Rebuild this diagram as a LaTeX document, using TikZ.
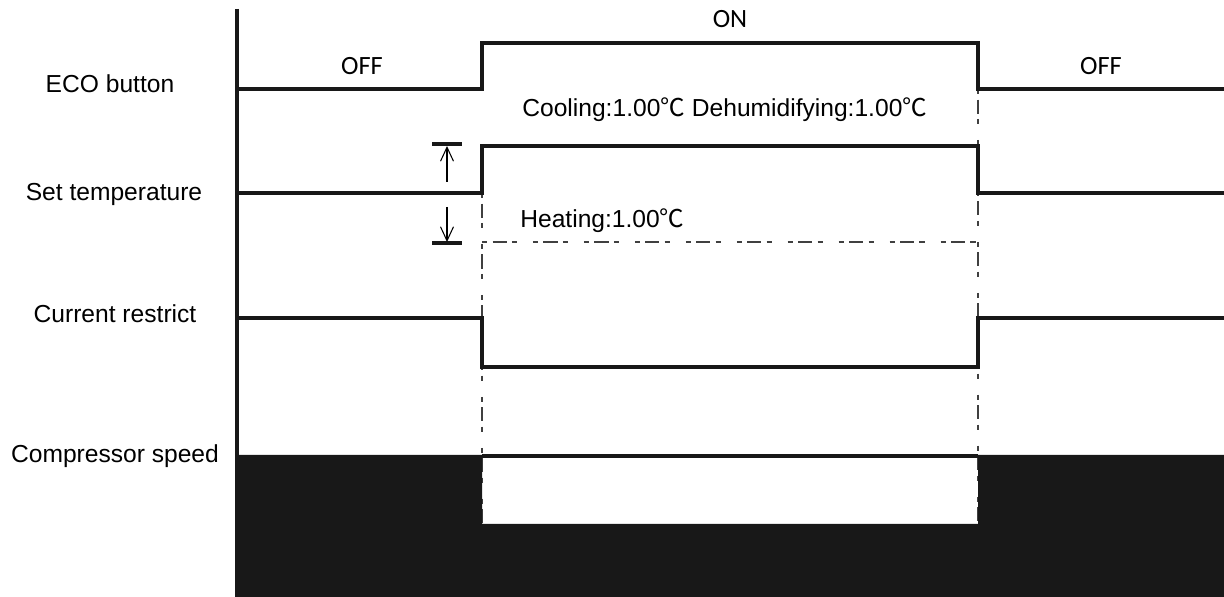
\documentclass[tikz,border=0pt]{standalone}
\usepackage{fontspec}
\setmainfont{Liberation Sans}
\newfontfamily\statefont{Carlito}
\newfontfamily\degfont{Noto Sans CJK SC}
\usetikzlibrary{arrows.meta}
\newcommand{\degC}{{\degfont ℃}}
\definecolor{fillc}{HTML}{181818}

\begin{document}
\begin{tikzpicture}[x=0.02cm, y=-0.02cm,
  sig/.style={line width=2.1pt, fillc},
  guide/.style={line width=0.7pt, black!75, dash pattern=on 3pt off 3pt on 8pt off 3pt on 3pt off 9pt},
  lbl/.style={font=\fontsize{14}{16}\selectfont, anchor=base, inner sep=0pt},
  st/.style={font=\statefont\fontsize{15}{18}\selectfont, anchor=base, inner sep=0pt},
  ar/.style={-{Straight Barb[length=2.8mm, width=2.6mm, line width=0.6pt]}, line width=0.6pt},
]
\useasboundingbox (0,0) rectangle (1224,597);

% row labels
\node[lbl] (eco) at (110,93) {ECO button};
\node[lbl] (set) at (114,201) {Set temperature};
\node[lbl] (cur) at (115,323) {Current restrict};
\node[lbl] (comp) at (115,463) {Compressor speed};

% state labels
\node[st] (off1) at (362,75) {OFF};
\node[st] (on) at (730,28) {ON};
\node[st] (off2) at (1101,75) {OFF};
\node[lbl, anchor=base west] (cool) at (522,117) {Cooling:1.00\degC\ Dehumidifying:1.00\degC};
\node[lbl, anchor=base west] (heat) at (520,228) {Heating:1.00\degC};

% guide lines
\draw[guide] (482,193) -- (482,524);
\draw[guide] (978,89) -- (978,524);
\draw[guide] (482,242) -- (978,242);

% compressor speed
\fill[fillc] (237,455) -| (482,524) -| (978,455) -| (1224,597) -| cycle;
\draw[sig] (482,456) -- (978,456);

% signals
\draw[sig] (237,9) -- (237,597);
\draw[sig] (237,89) -- (482,89) -- (482,43) -- (978,43) -- (978,89) -- (1224,89);
\draw[sig] (237,193) -- (482,193) -- (482,146) -- (978,146) -- (978,193) -- (1224,193);
\draw[sig] (237,318) -- (482,318) -- (482,367) -- (978,367) -- (978,318) -- (1224,318);

% temperature shift
\draw[sig] (432,144) -- (462,144);
\draw[sig] (432,243) -- (462,243);
\draw[ar] (447,182) -- (447,146);
\draw[ar] (447,207) -- (447,242);
\end{tikzpicture}
\end{document}
